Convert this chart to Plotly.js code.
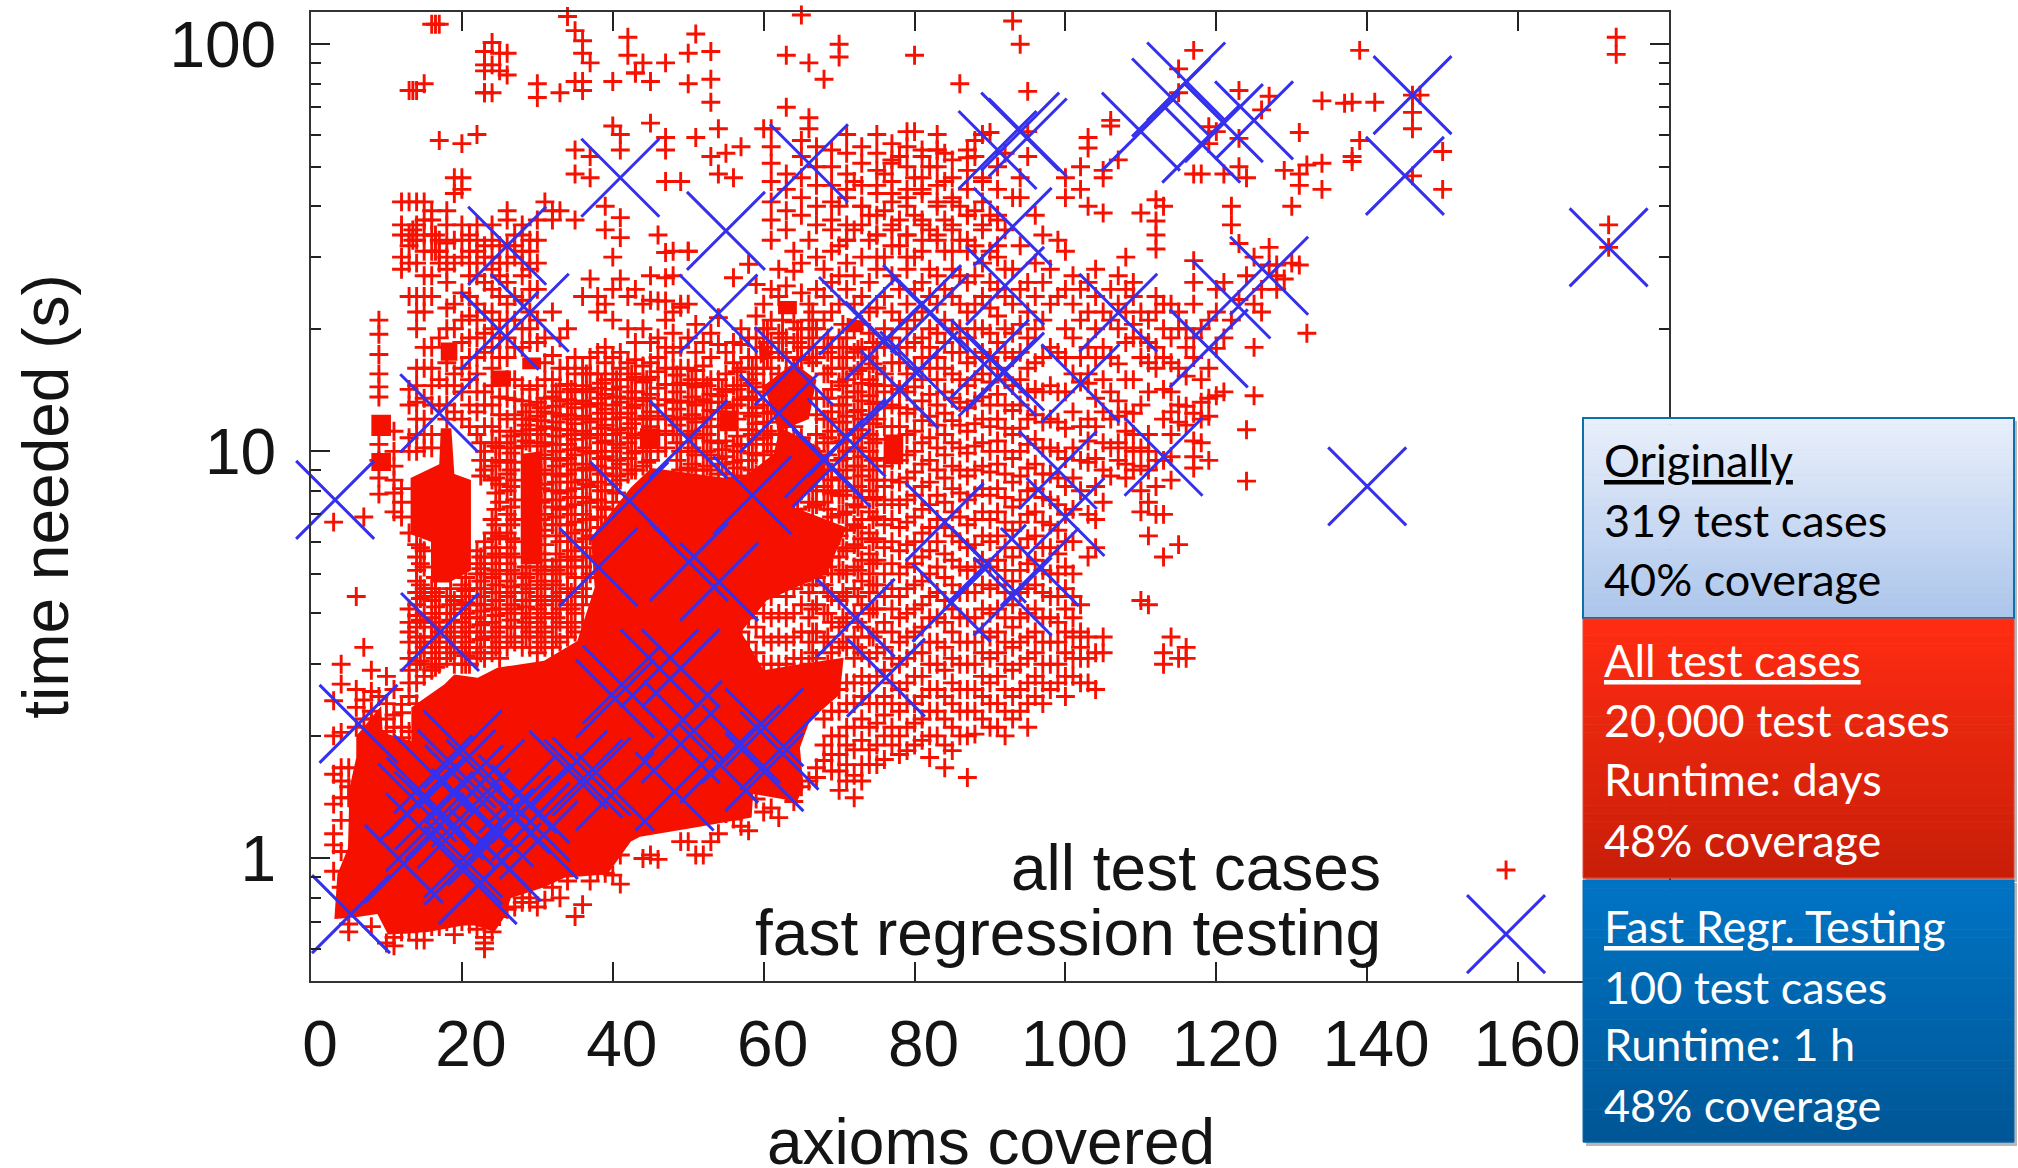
<!DOCTYPE html>
<html><head><meta charset="utf-8">
<script src="https://cdn.plot.ly/plotly-3.0.1.min.js"></script>
<style>html,body{margin:0;padding:0;background:#fff}</style></head>
<body><div id="chart" style="width:2018px;height:1168px"></div>
<script>
// Values estimated by eye from the reference.
// All test cases: one entry per "axioms covered" column, with the times read in that column.
const redColumnX = [3,4,5,6,7,8,9,10,11,12,13,13.5,14,15,16,16.5,17,18,19,20,21,22,23,24,25,26,27,28,29,30,31,32,33,34,35,36,37,38,39,40,41,42,43,44,45,46,47,48,49,50,51,52,53,54,55,56,57,58,59,60,61,62,63,64,65,66,67,68,69,70,71,72,73,74,75,76,77,78,79,80,81,82,83,84,85,86,87,88,89,90,91,92,93,94,95,96,97,98,99,100,101,102,103,104,105,106,107,108,109,110,111,112,113,114,115,116,117,118,119,120,121,122,123,124,125,126,127,128,129,130,131,132,134,137,138,139,141,146,147,150,172,173];
const redColumnTimes = [
[.93,1.08,1.15,1.36,1.61,2,2.44,6.7],
[.85,1.04,1.24,1.41,1.55,1.67,2.04,2.68,3],
[.66,.69,.74,.8,1.41,1.5,1.67],
[2.1,2.35,2.6,4.4],
[2.2,2.45,3.3,6.9],
[.68,2.2,2.3,2.57,2.9],
[2.5,7.85,8.6,9.5,10.4,13.6,14.4,15.5,17.3,19.4,21],
[.62,2.05,2.2,2.4,2.8],
[.61,.64,2.1,2.25,2.6,7.1,7.9,8.5,9.2,10,11.2],
[.66,1.98,2.1,2.28,2.39,6.9,7.5,8.1,28,30,34,36,41],
[.66,2.05,2.5,2.7,2.9,3.1,3.4,3.6,3.8,4.1,6.3,10,10.8,13,14.2,24,29,32,34,41,77],
[33,35,77],
[.63,2.4,2.7,3,3.2,3.5,3.7,3.95,4.2,4.5,4.8,5.1,5.5,5.9,10,11,12,13.2,14.5,16,20,22,24,29,33,36,41,77],
[.63,2.8,3,3.3,3.5,3.8,4,4.4,4.6,5.2,5.7,10.2,11,12,13.5,16,18,22,24,27,31,34,37,41,80],
[.68,2.9,3.2,3.5,3.7,3.9,4.3,4.6,10.2,11,13,14.5,16,18,24,27,31,34,37,39,112],
[31,34,112],
[.68,3,3.3,3.6,4,4.4,13,15,19,29,31,33,58,112],
[.7,3.1,3.4,3.7,4,4.4,12,13,14.5,16.5,20,22.5,26,28,30,32.5,36,39],
[.65,3,3.3,3.6,4,4.3,12.5,14.5,15.5,20,23,29,33,47,43],
[.7,3,3.2,3.5,3.8,4.1,4.4,4.7,12,14,16,18.5,21,24.5,30,33,36,44,47,57],
[.69,3,3.3,3.6,3.9,4.2,4.6,11.5,13,15,17,19,21.5,24,27,29,31,34],
[.67,3.1,3.3,3.6,3.9,4.2,4.6,5,5.3,5.7,11,12.5,14,15.5,17,19,21,23,27,29,31,33,36,60],
[.6,.62,.64,3.1,3.5,3.8,4.2,4.6,5,5.5,6,9,10,11.5,13,14,17.5,19.5,22,26,30,32,76,86,89,96,76],
[.66,3.2,3.5,3.8,4.1,4.5,4.9,5.3,5.8,6.3,6.8,8.5,9.2,10.5,11.5,13,14.5,16,18,20,22,25,28,30,33,36,76,89,101],
[.72,3.1,3.4,3.7,4.1,4.5,5,5.5,6.2,7.5,8.3,9.4,10.2,11.2,12.3,13.6,17,19,21,24,27,29,32,86,95],
[.75,3.3,3.7,4,4.4,4.8,5.3,5.8,6.3,7,8,8.8,9.5,10.5,12,13.5,15,17,19,21,23,26,29,32,37,39,84,95],
[.76,3.4,3.7,4.1,4.5,5,5.5,6,6.8,7.6,8.5,9.4,10.2,11.2,12.3,13.4,15,18,21,24,30,32,34],
[.78,.8,3.3,3.7,4,4.3,4.7,5,10.3,11,12,13.3,14.5,18,20,23.5,27,29,31,34,36],
[.78,.8,3.3,3.6,3.9,4.3,4.6,5,10.5,11.3,12,13,14.2,18.5,20,22,25,28,31,33],
[.76,3.2,3.5,3.8,4.1,4.4,4.8,5.2,10.5,11.3,12.2,13.2,14.5,18.5,21,25,29,33,37,74,80],
[.79,3.3,3.6,3.9,4.2,4.6,5,5.4,5.9,6.4,7,7.6,8.3,9,9.8,10.5,11.5,12.5,13.5,15,16.5,19,41],
[.85,3.3,3.7,4,4.4,4.8,5.2,6.6,7.3,8,8.8,9.6,10.4,11.4,12.4,13.6,15,17.2,22,37,39],
[.8,3.4,3.8,4.1,4.5,5,5.4,6,6.6,7.2,7.9,8.7,9.5,10.4,11.3,12.2,13.3,14.5,16,19,39,76],
[.88,3.5,3.8,4.2,4.6,5,5.5,6,6.6,7.3,8,8.8,9.6,10.4,11.3,12.3,13.4,14.6,16,20,117],
[.72,3.6,4,4.4,4.9,5.4,6,6.7,7.4,8.1,9,9.8,10.7,11.7,12.8,14,15.5,17,37,48,55,81,108],
[.77,3.8,4.2,4.6,5.2,5.8,6.4,7,7.7,8.5,9.3,10.2,11.2,12.2,13.3,14.5,16,24,77,81,95,102],
[.88,5,5.5,6.2,6.8,7.5,8.2,9,9.9,10.8,11.8,12.9,14,15.5,17,26.5,47,53,90],
[.93,5.5,6.2,6.9,7.6,8.4,9.2,10,11,12,13.1,14.3,15.5,17.5,22,24],
[.92,6.5,7.2,8,8.8,9.7,10.6,11.6,12.7,13.8,15,16.5,18,23,40,35],
[.91,7.5,8.3,9.1,10,11,12,13,14.2,15.5,17,21,25,30,63,81],
[.865,1.02,8.5,9.3,10.2,11.1,12.1,13.2,14.4,16,17.5,26.5,33.5,37.5,55,60],
[8.8,9.6,10.5,11.4,12.4,13.5,15,16.5,20,24,94,104],
[9,10,11,12,13,14,15.2,16.8,18.5,25,85,85],
[1,9.2,10,11,12,13.3,14.8,16.2,20,23,90],
[1.02,9.5,10.3,11.5,12.5,13.8,15.2,16.5,18.5,23.5,27,81,64],
[.995,10,11,12,13,14.3,15.7,17,19,23.4,34],
[10.2,11.2,12.2,13.4,14.6,16,18,21,23.4,26.7,30.8,46,55,59,90],
[11,12,13.2,14.6,16,17.5,19.5,22,27,31],
[1.1,9,10,11,12.1,13.3,14.7,16,18,22.6,23,46],
[1.1,9.1,10,11,12,13.2,14.6,16,19,23,31,31,80,95],
[1.02,9,9.8,10.8,11.8,13,14.4,15.8,17.5,20.5,59,106],
[1.02,9,10,11,12.1,13.4,14.7,16.2,18.5],
[1.1,3.7,4,9,9.8,10.6,11.5,12.6,13.8,15,17,19.5,53,72,82,96],
[1.15,3.7,4,8.8,9.6,10.5,11.5,12.5,13.7,15,18.3,21.3,48,62],
[1.29,2.7,3,3.4,3.8,8.8,9.7,10.6,11.6,12.8,14,15.5,17.5,54],
[1.25,2.8,3.1,3.5,4.2,4.5,8.6,9.4,10.3,13,14.5,16.5,18.5,26.7,47],
[1.2,2.8,3.2,3.6,4,4.5,8.7,9.5,10.4,13.4,14.5,16,18.3,20,56],
[1.17,2.6,3,3.4,3.9,4.4,4.8,8.6,9.5,10.4,11.3,12.4,13.6,15,17,19,28.8],
[1.4,2.8,3.2,3.7,4.2,4.7,8.8,9.8,10.7,11.7,12.8,14,15.5,17,19,21.5,25.7],
[1.3,2.6,3,3.5,4,4.5,5,9.8,10.8,11.8,13,14.4,16,18,20,23,62],
[1.33,2.6,3,3.4,3.9,4.4,4.9,5.5,10,11,12.5,14.5,16,18.5,21,25,51,56,62],
[1.26,2.6,3,3.5,4,4.6,5.2,5.8,11,11.8,14,15.5,17.5,19.5,24,28],
[1.45,3,3.4,3.9,4.4,5,5.6,6.2,11.5,12.3,14,15.2,17,19,25.5,70,94],
[1.38,3.1,3.5,4,4.6,5.2,5.8,6.6,7.1,11.5,12.5,13.6,16,18.5,20.8,27.7,31],
[1.5,3.1,3.6,4.2,4.8,5.5,6.2,6.9,8,9,9.8,10.8,16.8,18,20,24.5,29,118],
[1.55,3,3.4,3.9,4.5,5.1,5.8,6.5,7.5,8.5,9.3,10.3,17,19,21,23,33,62,66,90],
[1.58,1.67,2.4,2.7,3.1,3.6,4.2,4.9,5.6,6.4,7.4,8.2,9,10,11,12.3,13.5,17,20,25,30,36],
[1.74,1.9,2.2,2.5,2.9,3.4,4,4.7,5.4,6.4,7.5,8.2,9.3,10.5,12,13.5,15.5,18,21,24,28,82],
[1.64,1.8,2,2.3,2.6,3.2,3.8,4.4,5,5.5,6.2,6.9,7.9,8.5,11.2,12.5,14.2,16,18,22,26,31,35],
[1.47,1.64,1.8,2,2.3,2.6,3.3,3.7,4.3,5,5.5,6.2,7,7.8,8.6,9.5,10.5,11.8,13,14.8,17,19,23,27,32,40,93,100],
[1.55,1.7,1.9,2.1,2.4,2.7,3.3,3.8,4.4,5,5.7,6.4,7.1,8,9,10,11,12.2,13.6,15,17,19,25,29,33,44],
[1.41,1.6,1.85,2.1,2.4,2.7,3.1,3.5,4,4.6,5.2,5.9,6.6,7.4,8.2,9.2,10.2,11.3,12.5,14,15.5,17.5,20,23,27,35,46],
[1.55,1.7,1.95,2.2,2.5,2.8,3.2,3.7,4.2,4.8,5.4,6.1,6.8,7.7,8.7,9.7,10.8,12,13.3,14.7,16,18,20.5,24,30,40],
[1.7,1.85,2.1,2.4,2.7,3.1,3.5,4,4.5,5,5.6,6.3,7.1,8,9,10,11,12.3,13.7,15,17,19.5,22,26,33,38],
[1.7,1.9,2.15,2.4,2.8,3.2,3.6,4.1,4.7,5.4,6.1,6.9,7.7,8.5,9.6,10.7,12,13.2,14.5,16,18,22.5,28,34,45],
[1.75,2,2.25,2.5,2.9,3.3,3.8,4.4,5,5.8,6.6,7.4,8.2,9.2,11.5,12.8,14,15.5,18,20,24,30,39,48],
[1.9,2.1,2.4,2.7,3.1,3.6,4.1,4.6,5.3,6,6.8,7.6,8.5,9.5,11.5,13,14.5,16.5,19,22,27,35,43,52],
[1.8,2,2.3,2.6,3,3.4,3.9,4.4,5,5.7,6.5,7.4,8.4,9.5,11.5,12.8,14.2,16.5,18,21,25,32,37,53],
[1.84,2.1,2.4,2.7,3.1,3.5,4,4.6,5.2,5.9,6.7,7.6,8.6,9.8,11,12.4,14,15.5,18,20,23,28,34,42,61],
[1.9,2.15,2.4,2.8,3.2,3.6,4.1,4.7,5.3,6,6.9,7.8,8.9,10,11.2,12.7,14.4,16,18.5,21,25,30,38,47,61,94],
[1.95,2.2,2.5,2.8,3.2,3.7,4.2,4.8,5.5,6.3,7.2,8.2,9.3,10.5,11.9,13.3,15,17,19,22,26,31,36,44,55],
[1.77,2,2.3,2.6,3,3.4,3.9,4.4,5,5.7,6.5,7.4,8.4,9.5,10.8,12.2,13.8,16,18,20,24,28,35,50],
[2,2.3,2.6,3,3.4,3.9,4.5,5.2,6,6.8,7.8,9,10.2,11.6,13,15,17,19.5,23,27,33,41,55],
[1.67,1.9,2.2,2.5,2.9,3.3,3.8,4.3,4.9,5.6,6.5,7.5,8.6,9.8,11,12.4,14,16,18.5,21,25,31,37,46,54],
[1.84,2.1,2.4,2.7,3.1,3.6,4.1,4.7,5.4,6.2,7.1,8.1,9.2,10.5,11.9,13.5,15.5,17.5,20,24,28,35,42],
[2,2.3,2.6,3,3.4,3.9,4.5,5.2,6,6.9,7.9,9,10.2,11.6,13.2,15,17.5,20,23,27,33,40,80],
[1.58,2,2.3,2.6,3,3.4,3.9,4.5,5.1,5.8,6.6,7.6,8.7,9.9,11.2,12.8,14.5,16.5,19,22,26,31,38,52.6],
[2.02,2.3,2.6,3,3.4,3.9,4.5,5.2,5.9,6.8,7.8,9,10.3,11.7,13.3,15,17,20,23,27,32,39,58,53],
[2.2,2.5,2.8,3.2,3.6,4.1,4.7,5.4,6.2,7.1,8.1,9.2,10.5,12,13.6,15.5,17.5,20,24,29,36,46],
[2.1,2.4,2.7,3.1,3.5,4,4.6,5.2,6,6.8,7.8,8.9,10,11.5,13,14.8,17,19.5,22.5,26,31,38,60.7],
[2.1,2.4,2.8,3.2,3.6,4.1,4.7,5.4,6.2,7.1,8.1,9.3,10.6,12,13.8,16,18.5,21.5,25,30,37],
[2,2.3,2.6,3,3.4,3.9,4.5,5.1,5.8,6.7,7.7,8.8,10,11.4,13,15,17.5,20,24,28,35,54],
[2.2,2.5,2.9,3.3,3.7,4.2,4.8,5.5,6.4,7.3,8.4,9.6,11,12.6,14.5,17,19.5,23,28,42,114],
[2.3,2.6,3,3.4,3.9,4.5,5.1,5.8,6.7,7.6,8.7,10,11.4,13,15,17.5,20.5,25,32,42,47,100],
[2.1,2.4,2.7,3.1,3.5,4,4.6,5.3,6.1,7,8,9.1,10.4,12,14,16,19,22,26,61,53,76.6],
[2.5,2.8,3.2,3.6,4.1,4.7,5.4,6.2,7.1,8.1,9.3,10.7,12.3,14.2,16.5,20,24,29,38],
[2.4,2.7,3,3.4,3.9,4.5,5.1,5.8,6.7,7.7,8.8,10.2,11.8,14,17,21,26,34],
[2.6,3,3.4,3.9,4.4,5,5.8,6.6,7.6,8.8,10.2,12,14.5,18,23,28],
[2.7,3,3.4,3.8,4.4,5,5.6,6.4,7.4,8.6,10,11.8,14,17.5,24,33],
[2.5,2.8,3.2,3.6,4.1,4.6,5.2,6,7,8.2,9.6,11.4,14,17,20,25,31,42,47],
[2.8,3.1,3.5,3.9,4.4,5,6,7.2,8.6,10.2,12.5,15.5,19,23,27],
[3.1,2.7,3.3,3.6,4.2,8,9.5,11.5,14.8,17,21,25,44,50],
[2.7,3.1,3.5,5.5,7,9.4,10.6,12,14.7,15.5,18,22,26,40,55.6,59],
[2.6,3.2,5.8,6.8,8.2,9.6,11.5,13.5,17,20,24,28],
[3.2,3.5,7.5,9,10.5,12.5,15,18,22,47,49,38.5],
[8.7,10.2,12,14,17,21,25,63,65],
[9.5,10.5,12.2,16.4,13.3,20,23,27,52],
[8.6,9.3,10.2,11.2,12.5,15,18.5,22,25,30],
[9,10,11,12.4,15,19,20.5,24,26],
[4.3,7.1,8,9.2,10.2,13,17,19,22,38.5],
[4.2,6.2,7.5,9,10,11,14,16.5,18.5,21],
[7,8.2,9.5,16,18,22,24,31.4,34,36.8,41.5],
[3,3.2,5.5,7,9.5,12,14.2,17,20,23,40],
[3.5,8.5,9.7,11,12.5,14,16.5,19,23],
[3.1,5.9,11.8,13,16,20,22,87,76],
[3.1,3.3,12.9,11.6,15.3,18,20],
[9.1,9.7,10.6,12.4,17,19,23,26,29.4,48,96.6],
[10.5,12,13.2,15,20,48],
[9.5,12.2,13.5,16,21,57,62.7],
[13.7,17.9,22,25,61],
[14,19,26,48],
[36,40,21],
[23.6,32.4,50,58.7,77],
[8.45,11.3,27,47],
[13.7,18,23,30],
[22,25,69],
[28.7,31.7,74.5],
[27,28.7,25],
[49,26.5],
[40,29],
[48,45,60.7,28.7],
[19.5,50.5],
[44,51,72.6],
[71.6],
[51.5,53,72],
[96.6,58],
[72],
[47.5,62,68,75],
[75],
[44,54.5],
[31.7,36],
[94.4,104]
];
// More test cases in the densely packed zones, read the same way
const redDenseX = [14.5,16.5,18.5,20.5,22.5,24.5,26.5,28.5,30.5,32.5,34.5,36.5,38.5,40.5,42.5,44.5,48.5,50.5,52.5,54.5,56.5,58.5,60.5,62.5,64.5,66.5,68.5,70.5,72.5,74.5,61,63,65,67,69,71,73,75,77,79,81,83,85,87,89,91];
const redDenseTimes = [
[3.05,3.4,3.85,4.35,4.7,5.3,5.8],
[2.95,3.1,3.4,3.8,4.15,4.5,4.9],
[3.2,3.5,3.85,4.2,4.6],
[3,3.15,3.4,3.7,4,4.25,4.55,4.9],
[3.2,3.45,3.75,4.05,4.4,4.8,5.15,5.5,8.7,9.5,10.5],
[3.3,3.6,3.95,4.3,4.7,5.1,5.6,6.1,6.6,7.2,7.9,8.6,9.5,10.3],
[3.5,3.85,4.2,4.65,5.1,5.6,6.1,6.6,7.3,8.2,9,9.9,10.9],
[3.5,3.8,4.15,4.5,4.9,5.2,10.6,11.6,12.5],
[3.4,3.7,4,4.3,4.7,5.1,5.6,6.2,6.8,7.5,8.1,8.8,9.6,10.3,11,11.9,12.8],
[3.5,3.9,4.3,4.7,5.1,5.6,6.2,6.9,7.6,8.4,9.2,10,10.9,11.8,12.9,14],
[3.7,4.1,4.5,5.2,5.7,6.3,7,7.7,8.4,9.3,10.1,11,12,13.1,14.2],
[4.4,4.9,5.5,6.1,6.8,7.5,8.3,9.1,10,11,12,13.1,14.2,15.5],
[5.8,6.5,7.3,8,8.8,9.6,10.5,11.4,12.4,13.5,14.7],
[7.9,8.7,9.5,10.4,11.3,12.4,13.6,15],
[9,9.9,10.8,11.7,12.8,14,15.5],
[9.4,10.2,11.1,12.2,13.5,15],
[9.5,10.5,11.6,12.7,14,15.4],
[9.3,10.2,11.2,12.3,13.6,15],
[3.6,3.9,4.2,4.6,5,9.2,10,11,12,13.2,14.5],
[3,3.3,3.6,3.9,4.2,4.6,5,5.5,9.3,10.1,13.2,14.2],
[2.9,3.2,3.4,3.8,4.1,4.4,4.8,5.3,9.1,10,10.9,12,13,14.2,15.7],
[4.3,4.6,5,5.5,9,9.9,11,12.2,13.4,14.7,16],
[4.7,5.2,5.7,6.2,6.8,7.5,8.3,10.4,11.2,12.4,17,18.5,20],
[5,5.5,6.1,6.7,7.4,8,8.8,17.5,19,21],
[5.3,5.9,6.5,7.2,7.9,8.7,9.6,10.6,17,18.5,20],
[3.2,3.6,4.1,4.7,5.3,5.9,6.6,7.3,8,8.9,9.9,16.5,18,20,22],
[3,3.5,4,4.5,5.2,5.8,6.5,7.2,8,9,9.8,10.8,12,13.5,15.5,17.5,19],
[3.4,3.9,4.5,5.1,5.8,7,7.8,8.6,9.6,10.6,11.8,13,14.5,16,18,20.5],
[3.3,3.8,4.4,5.1,5.8,6.5,7.3,8.2,9.2,10.2,11.3,12.6,14,15.8,17.8],
[3.5,4.1,4.7,5.3,6,6.8,7.6,8.5,9.5,10.5,11.7,13.1,14.6,16.4,18.5],
[33,37,41,46],
[35,39,44,48],
[38,42,47,53,58],
[40,45,50,56],
[37,41,45,50,55],
[33,36,42,48,54,60],
[36,40,45,51,56],
[30,34,38,43,49,54,60],
[32,36,41,46,51,57],
[30,34,40,44,50,56],
[33,37,43,47,53],
[34,40,45,50,55,60],
[31,36,41,47,52],
[33,38,44,49,55],
[35,41,47,60],
[32,38,44,50]
];

// Areas where the plus markers overlap into solid red (outlines; null separates areas)
const solidX = [3.1,3.5,4.9,5.1,6,6,9.3,9.5,13.3,13.3,17.7,19,22.1,24.7,30.9,35.3,37.6,37.1,42.4,45.1,51.1,56.9,61.3,62.2,67.5,68.3,63.9,71,68.3,60.4,57,60,64.8,70.6,70.1,66.1,64.8,65.3,64.4,58.6,58.4,53.3,50.7,43.6,42.4,39.3,33.6,30.9,26.5,25.6,24.3,21.2,15.5,10.2,8.8,5.7,null,
13.2,17,17.2,18.6,19,21.2,21.2,18.3,15.9,15.9,13.2,null,27.8,30.5,30.5,27.8,null,8,10.6,10.6,8,null,8,10.6,10.6,8,null,17.2,19.4,19.4,17.2,null,24.1,26.5,26.5,24.1,null,28,30.5,30.5,28,null,61.9,64.4,64.4,61.9,null,60,64,67,66,62,null,43.6,46.3,46.3,43.6,null,54.2,56.4,56.4,54.2,null,59.3,61.3,59.5,null,75.9,78.5,78.5,75.9,null,71,73.2,73.2,71];
const solidY = [.71,.915,1.06,1.49,1.77,2,2.37,2.04,1.94,2.35,2.68,2.83,2.78,2.94,3.06,3.42,4.63,6.14,8.15,9.1,8.8,8.5,9.85,11.45,10.2,8.8,7.3,6.5,5,4.3,3.6,2.9,3,3.11,2.53,2.18,1.87,1.49,1.38,1.44,1.26,1.21,1.19,1.13,1.1,.915,.897,.85,.8,.716,.66,.69,.66,.65,.73,.716,null,
8.6,9.3,11.4,11.4,8.8,8.5,5.1,4.76,4.76,6,6.26,null,9.85,10,5.28,5.28,null,12.3,12.3,10.9,10.9,null,9.9,9.9,8.95,8.95,null,18.5,18.5,16.7,16.7,null,15.8,15.8,14.4,14.4,null,17,17,15.9,15.9,null,23.4,23.4,21.7,21.7,null,14.5,16.5,15,12,11.2,null,11.4,11.4,10.2,10.2,null,12.6,12.6,11.2,11.2,null,19,17.3,16.4,null,11,11,9.3,9.3,null,21.3,20.9,19.6,19.6];

// Fast regression testing
const blueX = [172,146,145,140,116,114,110,121,118,125,94,95,91,93,92,82,127,122,119,107,102,91,92,90,80.6,113,99,100,84,96.6,93,89.6,
3.2,17,25,29,26,41,66,55,54,72.5,81,76,78,64,62,68,71,50,58.5,69,
20.1,19.3,16.2,23.1,34.1,37.2,36.1,40.3,41.2,30.2,29.1,29.1,25.3,22.1,20.2,12.3,15.1,14.1,19.3,20.2,23.3,15.2,40.3,20.3,26.5,24.3,21.2,27.4,17.7,16.3,5.3,6.3,
62.1,60.1,48.2,54.1,57,49,60.1,49.3,49,46.2,72.2,76.2,84.9,54.1,50.1,42.2,38.1,17.1];
const blueY = [31.7,75,47.5,8.2,81,74,61,64,57,65,61,59,55,35.6,25.5,21.8,27,23.6,17.9,21.9,14.7,15.2,15.7,16.9,15.8,9.7,9,6.9,6.7,5.2,4.4,5.3,
7.6,12.4,19.8,21.9,32,47,51,34.8,21.8,21.5,23,18.7,14.2,16.2,12.4,9.6,10.8,10.7,7.8,9.1,
1.85,1.66,1.61,1.57,1.65,1.59,1.57,2.47,2.67,1.11,1.23,1.36,.98,.86,.96,.97,1.16,1.37,1.18,1,1.07,1.42,1.46,1.52,1.28,1.19,1.33,1.44,1.24,1.31,.73,2.14,
1.84,1.63,1.46,1.71,1.91,1.91,2.1,2.19,2.93,2.93,3.9,2.78,4.25,4.78,5.35,7.55,5.2,3.6];

const xTicks = [0,20,40,60,80,100,120,140,160,180];
const xTickText = ['0','20','40','60','80','100','120','140','160',''];
const yTicks = [1,10,100];
const yTickText = ['1','10','100'];
const yMinorTicks = [.6,.7,.8,.9,2,3,4,5,6,7,8,9,20,30,40,50,60,70,80,90];
const legendLabels = ['all test cases','fast regression testing'];
const legendSampleX = [158.4];
const legendSampleY = [.937,.652];
const xAxisLabel = 'axioms covered';
const yAxisLabel = 'time needed (s)';

const boxTitles = ['Originally','All test cases','Fast Regr. Testing'];
const boxLines = [['319 test cases','40% coverage'],['20,000 test cases','Runtime: days','48% coverage'],['100 test cases','Runtime: 1 h','48% coverage']];

const RED='#f51000', BLUE='#3530ee', INK='#141414', W=2018, H=1168;
const SANS='"Liberation Sans",Arial,sans-serif', BOXFONT='Lato,"Open Sans",sans-serif';
const FL=311, FR=1669, FT=12, FB=981;
const px=v=>(v-FL)/(FR-FL), py=v=>(FB-v)/(FB-FT);

const redX=[], redY=[];
redColumnX.forEach((x,i)=>redColumnTimes[i].forEach(t=>{redX.push(x);redY.push(t);}));
redDenseX.forEach((x,i)=>redDenseTimes[i].forEach(t=>{redX.push(x);redY.push(t);}));

const plusMarker={symbol:'cross-thin',size:13.5,color:RED,line:{width:2.9,color:RED}};
const crossMarker={symbol:'x-thin',size:78,color:BLUE,line:{width:3,color:BLUE}};
const traces=[
 {type:'scatter',mode:'lines',x:solidX,y:solidY,fill:'toself',fillcolor:RED,line:{width:0,color:RED},hoverinfo:'skip',showlegend:false},
 {type:'scatter',mode:'markers',name:legendLabels[0],x:redX,y:redY,cliponaxis:false,marker:plusMarker,showlegend:false},
 {type:'scatter',mode:'markers',name:legendLabels[1],x:blueX,y:blueY,cliponaxis:false,marker:crossMarker,showlegend:false},
 {type:'scatter',mode:'markers',x:legendSampleX,y:[legendSampleY[0]],marker:plusMarker,showlegend:false,hoverinfo:'skip'},
 {type:'scatter',mode:'markers',x:legendSampleX,y:[legendSampleY[1]],marker:crossMarker,showlegend:false,hoverinfo:'skip'}
];

// Text boxes: vertical gradients drawn as thin bands
const mix=(a,b,t)=>'rgb('+a.map((v,i)=>Math.round(v+(b[i]-v)*t)).join(',')+')';
const boxes=[
 {top:418,bottom:618,c0:[232,239,251],c1:[173,198,236],border:'#0f6fa8',bw:2},
 {top:619,bottom:878,c0:[255,44,18],c1:[200,30,8],border:'#e0483c',bw:1},
 {top:880,bottom:1142,c0:[0,116,196],c1:[0,86,150],border:'#0a6bb0',bw:1}
];
const L=1583,R=2014;
const shapes=[];
boxes.forEach(b=>{
 shapes.push({type:'rect',xref:'paper',yref:'paper',x0:px(L+3),x1:px(R+3),y0:py(b.bottom+4),y1:py(b.top+3),fillcolor:'rgba(0,0,0,.28)',line:{width:0},layer:'above'});
 const n=32,h=(b.bottom-b.top)/n;
 for(let i=0;i<n;i++)shapes.push({type:'rect',xref:'paper',yref:'paper',x0:px(L),x1:px(R),y0:py(b.top+(i+1)*h+.5),y1:py(b.top+i*h),fillcolor:mix(b.c0,b.c1,i/(n-1)),line:{width:0},layer:'above'});
 shapes.push({type:'rect',xref:'paper',yref:'paper',x0:px(L),x1:px(R),y0:py(b.bottom),y1:py(b.top),fillcolor:'rgba(0,0,0,0)',line:{width:b.bw,color:b.border},layer:'above'});
});

const ann=(text,x,y,size,color,family,anchor)=>({text,xref:'paper',yref:'paper',x:px(x),y:py(y),xanchor:anchor,yanchor:'middle',showarrow:false,font:{size,color,family}});
const annotations=[
 ann(legendLabels[0],1383,868,64,INK,SANS,'right'),
 ann(legendLabels[1],1383,933,64,INK,SANS,'right'),
 ann(xAxisLabel,991,1142,64,INK,SANS,'center')
];
const BOXSIZE=45;
const boxRows=[[460,520,579],[660,720,779,840],[926,987,1044,1105]];
const boxColors=['#000','#fff','#fff'];
boxTitles.forEach((t,i)=>{
 annotations.push(ann('<u>'+t+'</u>',1602,boxRows[i][0],BOXSIZE,boxColors[i],BOXFONT,'left'));
 boxLines[i].forEach((l,j)=>annotations.push(ann(l,1602,boxRows[i][j+1],BOXSIZE,boxColors[i],BOXFONT,'left')));
});

const axisCommon={showgrid:false,zeroline:false,showline:true,linecolor:'#333',linewidth:2,mirror:'allticks',ticks:'inside',ticklen:19,tickwidth:2,tickcolor:'#222',tickfont:{family:SANS,size:64,color:INK},automargin:false};
const layout={
 width:W,height:H,paper_bgcolor:'#fff',plot_bgcolor:'#fff',showlegend:false,
 margin:{l:FL,r:W-FR,t:FT,b:H-FB,pad:0},
 xaxis:Object.assign({},axisCommon,{type:'linear',range:[0,180],tickmode:'array',tickvals:xTicks,ticktext:xTickText,ticklabelshift:9,ticklabelstandoff:6}),
 yaxis:Object.assign({},axisCommon,{type:'log',range:[Math.log10(.5),Math.log10(120)],tickmode:'array',tickvals:yTicks,ticktext:yTickText,ticklabelstandoff:20,minor:{ticks:'inside',ticklen:10,tickwidth:2,tickcolor:'#222',tickmode:'array',tickvals:yMinorTicks,showgrid:false},title:{text:yAxisLabel,font:{family:SANS,size:64,color:INK},standoff:80}}),
 shapes,annotations
};
Plotly.newPlot('chart',traces,layout,{displayModeBar:false,staticPlot:true});
</script></body></html>
